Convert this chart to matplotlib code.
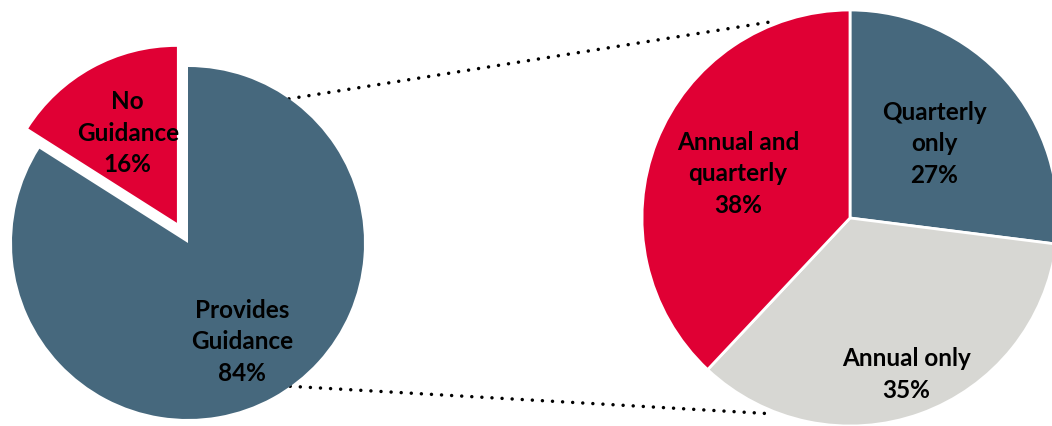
import numpy as np
import matplotlib
matplotlib.use("Agg")
import matplotlib.pyplot as plt

# Data
left_labels = ["Provides\nGuidance", "No\nGuidance"]
left_values = [84, 16]
right_labels = ["Quarterly\nonly", "Annual only", "Annual and\nquarterly"]
right_values = [27, 35, 38]

SLATE = "#46687D"
RED = "#E00034"
GRAY = "#D7D7D3"

plt.rcParams['font.family'] = ['Lato', 'DejaVu Sans']

W, H = 1052, 426
fig = plt.figure(figsize=(W / 100, H / 100), dpi=100)
ax = fig.add_axes([0, 0, 1, 1])

lc, lr = (188, 183), 176
rc, rr = (850, 208), 208

wl, _ = ax.pie(left_values, colors=[SLATE, RED], startangle=90, counterclock=False,
               center=lc, radius=lr, explode=[0, 23],
               wedgeprops=dict(linewidth=0), frame=True)
wr, _ = ax.pie(right_values, colors=[SLATE, GRAY, RED], startangle=90, counterclock=False,
               center=rc, radius=rr,
               wedgeprops=dict(edgecolor="white", linewidth=2.0), frame=True)

def place(wedges, labels, values, dists):
    for w, lab, v, d in zip(wedges, labels, values, dists):
        ang = np.deg2rad((w.theta1 + w.theta2) / 2)
        cx, cy = w.center
        x = cx + w.r * d * np.cos(ang)
        y = cy + w.r * d * np.sin(ang)
        ax.text(x, y, f"{lab}\n{v}%", ha="center", va="center", fontsize=17.5,
                fontweight="bold", color="black", linespacing=1.45)

place(wl, left_labels, left_values, [0.64, 0.58])
place(wr, right_labels, right_values, [0.54, 0.80, 0.58])

# Connector dotted lines
for a1, a2 in [(55, 111.5), (-54.5, -112)]:
    p1 = (lc[0] + lr * np.cos(np.deg2rad(a1)), lc[1] + lr * np.sin(np.deg2rad(a1)))
    p2 = (rc[0] + 1.015 * rr * np.cos(np.deg2rad(a2)), rc[1] + 1.015 * rr * np.sin(np.deg2rad(a2)))
    ax.plot([p1[0], p2[0]], [p1[1], p2[1]], color="black", linewidth=2.5,
            linestyle=(0, (0.01, 2.9)), dash_capstyle="round", zorder=0)

ax.set_xlim(0, W)
ax.set_ylim(0, H)
ax.set_aspect("equal")
ax.axis("off")
fig.savefig("out.png", dpi=100, facecolor="white")
